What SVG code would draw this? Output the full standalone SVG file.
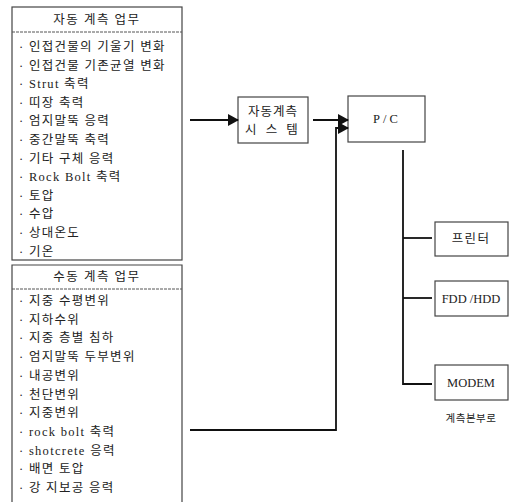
<svg xmlns="http://www.w3.org/2000/svg" width="524" height="502" viewBox="0 0 524 502">
<style>
.bg{fill:#ffffff}
.box{fill:none;stroke:#444;stroke-width:1.2}
.sep{fill:none;stroke:#555;stroke-width:1;stroke-dasharray:3 1}
.t{font-family:"Liberation Serif","Noto Sans CJK KR",serif;font-size:12.5px;fill:#222;dominant-baseline:central;letter-spacing:1.3px}
.h{font-family:"Liberation Serif","Noto Sans CJK KR",serif;font-size:12.5px;fill:#222;dominant-baseline:central;text-anchor:middle;letter-spacing:1.5px}
.c{text-anchor:middle}
.ln{fill:none;stroke:#111;stroke-width:1.8}
</style>
<defs>
<marker id="ah" markerWidth="11" markerHeight="12" refX="10" refY="6" orient="auto" markerUnits="userSpaceOnUse">
<path d="M0,0 L11,6 L0,12 Z" fill="#111"/>
</marker>
</defs>
<rect class="bg" x="0" y="0" width="524" height="502"/>

<g id="auto-tasks">
<rect class="box" x="12" y="7" width="170" height="253"/>
<line class="sep" x1="12" y1="32" x2="182" y2="32"/>
<text class="h" x="97" y="19.5">자동 계측 업무</text>
<text class="t" x="19" y="47">· 인접건물의 기울기 변화</text>
<text class="t" x="19" y="65.6">· 인접건물 기존균열 변화</text>
<text class="t" x="19" y="84.2">· Strut 축력</text>
<text class="t" x="19" y="102.8">· 띠장 축력</text>
<text class="t" x="19" y="121.4">· 엄지말뚝 응력</text>
<text class="t" x="19" y="140">· 중간말뚝 축력</text>
<text class="t" x="19" y="158.6">· 기타 구체 응력</text>
<text class="t" x="19" y="177.2">· Rock Bolt 축력</text>
<text class="t" x="19" y="195.8">· 토압</text>
<text class="t" x="19" y="214.4">· 수압</text>
<text class="t" x="19" y="233">· 상대온도</text>
<text class="t" x="19" y="251.6">· 기온</text>
</g>

<g id="manual-tasks">
<path class="box" d="M12,502 L12,265 L182,265 L182,502"/>
<line class="sep" x1="12" y1="289" x2="182" y2="289"/>
<text class="h" x="97" y="277">수동 계측 업무</text>
<text class="t" x="19" y="301">· 지중 수평변위</text>
<text class="t" x="19" y="319.7">· 지하수위</text>
<text class="t" x="19" y="338.4">· 지중 층별 침하</text>
<text class="t" x="19" y="357.1">· 엄지말뚝 두부변위</text>
<text class="t" x="19" y="375.8">· 내공변위</text>
<text class="t" x="19" y="394.5">· 천단변위</text>
<text class="t" x="19" y="413.2">· 지중변위</text>
<text class="t" x="19" y="431.9">· rock bolt 축력</text>
<text class="t" x="19" y="450.6">· shotcrete 응력</text>
<text class="t" x="19" y="469.3">· 배면 토압</text>
<text class="t" x="19" y="488">· 강 지보공 응력</text>
</g>

<g id="auto-system">
<rect class="box" x="238" y="97" width="70" height="46"/>
<text class="t c" x="273" y="112" style="letter-spacing:1px">자동계측</text>
<text class="t c" x="273" y="130" style="letter-spacing:3px">시 스 템</text>
</g>

<g id="pc">
<rect class="box" x="348" y="96" width="77" height="46"/>
<text class="t c" x="387" y="119" style="letter-spacing:3px">P/C</text>
</g>

<g id="printer">
<rect class="box" x="435" y="222" width="73" height="34"/>
<text class="t c" x="471" y="239">프린터</text>
</g>

<g id="fdd-hdd">
<rect class="box" x="435" y="281" width="73" height="35"/>
<text class="t c" x="471" y="298.5" style="letter-spacing:0px">FDD /HDD</text>
</g>

<g id="modem">
<rect class="box" x="435" y="365" width="73" height="35"/>
<text class="t c" x="471" y="382.5" style="letter-spacing:0px">MODEM</text>
<text class="t c" x="471" y="418" style="font-size:10.5px;letter-spacing:0.5px">계측본부로</text>
</g>

<g id="connectors">
<line class="ln" x1="190" y1="120" x2="238" y2="120" marker-end="url(#ah)"/>
<line class="ln" x1="313" y1="120" x2="348" y2="120" marker-end="url(#ah)"/>
<polyline class="ln" points="190,430 336,430 336,128 348,128" marker-end="url(#ah)"/>
<polyline class="ln" points="403,150 403,384 432,384"/>
<line class="ln" x1="403" y1="238" x2="432" y2="238"/>
<line class="ln" x1="403" y1="298" x2="432" y2="298"/>
</g>
</svg>
